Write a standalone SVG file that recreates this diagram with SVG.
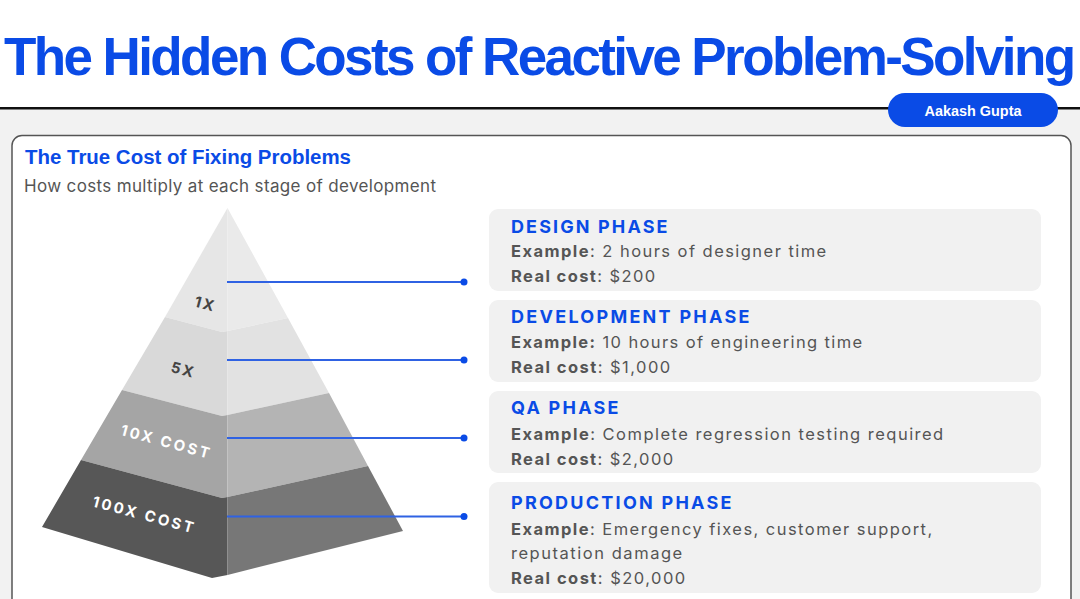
<svg xmlns="http://www.w3.org/2000/svg" width="1080" height="599" viewBox="0 0 1080 599">
<style>
.hel{font-family:"Liberation Sans",Arial,sans-serif;font-weight:700}
.int{font-family:Inter,"Noto Sans",sans-serif}
.ct{font-family:Inter,"Noto Sans",sans-serif;font-weight:700;font-size:18px;fill:#0a4be6;letter-spacing:1.5px}
.cb{font-family:Inter,"Noto Sans",sans-serif;font-size:16.5px;fill:#555;letter-spacing:0.8px}
.cb tspan.b{font-weight:700}
.card{fill:#f1f1f1}
.lbl{font-family:Inter,"Noto Sans",sans-serif;font-weight:700;text-anchor:middle}
.conn{stroke:#2f62e3;stroke-width:1.8;fill:none}
.dot{fill:#0a4be6}
</style>
<rect x="0" y="0" width="1080" height="599" fill="#f2f2f2"/>
<rect x="0" y="0" width="1080" height="108" fill="#ffffff"/>
<rect x="0" y="107" width="1080" height="2.5" fill="#111"/>
<text class="hel" x="4" y="75" font-size="53" fill="#0a4be6" letter-spacing="-2.6">The Hidden Costs of Reactive Problem-Solving</text>
<g id="author">
<rect x="888" y="93" width="170" height="34" rx="17" fill="#0a4be6"/>
<text class="hel" x="973" y="116" font-size="15" fill="#fff" text-anchor="middle" textLength="97" lengthAdjust="spacingAndGlyphs">Aakash Gupta</text>
</g>
<g id="panel">
<rect x="12" y="135.5" width="1059" height="480" rx="10" fill="#fff" stroke="#555" stroke-width="1.5"/>
<text class="hel" x="25" y="164" font-size="20" fill="#0a4be6" textLength="326" lengthAdjust="spacingAndGlyphs">The True Cost of Fixing Problems</text>
<text class="int" x="24" y="192" font-size="17" fill="#555" textLength="412">How costs multiply at each stage of development</text>
</g>
<g id="pyramid">
<g id="layer-1x">
<polygon points="227.5,208 165,317 222,332 227.5,331" fill="#e6e6e6"/>
<polygon points="227.5,208 288,318 227.5,331" fill="#eaeaea"/>
<text class="lbl" font-size="15" fill="#444" letter-spacing="2" transform="translate(204,309) rotate(15)">1X</text>
</g>
<g id="layer-5x">
<polygon points="165,317 122,390 222,416 227.5,415 227.5,331 222,332" fill="#d9d9d9"/>
<polygon points="227.5,331 288,318 329,393 227.5,415" fill="#e2e2e2"/>
<text class="lbl" font-size="15" fill="#444" letter-spacing="2" transform="translate(182,375) rotate(15)">5X</text>
</g>
<g id="layer-10x">
<polygon points="122,390 81,460 222,498 227.5,497 227.5,415 222,416" fill="#a5a5a5"/>
<polygon points="227.5,415 329,393 368,466 227.5,497" fill="#b4b4b4"/>
<text class="lbl" font-size="15" fill="#fff" letter-spacing="2.6" transform="translate(165,447) rotate(15)">10X COST</text>
</g>
<g id="layer-100x">
<polygon points="81,460 42,527 212,578 227.5,575 227.5,497 222,498" fill="#575757"/>
<polygon points="227.5,497 368,466 403,531 227.5,575" fill="#777777"/>
<text class="lbl" font-size="15" fill="#fff" letter-spacing="2.6" transform="translate(143,520) rotate(15)">100X COST</text>
</g>
</g>
<g id="connectors">
<line class="conn" x1="227" y1="282" x2="464" y2="282"/>
<circle class="dot" cx="464" cy="282" r="3.5"/>
<line class="conn" x1="227" y1="360" x2="464" y2="360"/>
<circle class="dot" cx="464" cy="360" r="3.5"/>
<line class="conn" x1="227" y1="438" x2="464" y2="438"/>
<circle class="dot" cx="464" cy="438" r="3.5"/>
<line class="conn" x1="227" y1="516.5" x2="464" y2="516.5"/>
<circle class="dot" cx="464" cy="516.5" r="3.5"/>
</g>
<g id="card-design">
<rect class="card" x="489" y="209" width="552" height="82" rx="9"/>
<text class="ct" x="511" y="233" textLength="158">DESIGN PHASE</text>
<text class="cb" x="511" y="257" textLength="316"><tspan class="b">Example</tspan>: 2 hours of designer time</text>
<text class="cb" x="511" y="282" textLength="145"><tspan class="b">Real cost</tspan>: $200</text>
</g>
<g id="card-development">
<rect class="card" x="489" y="300" width="552" height="82" rx="9"/>
<text class="ct" x="511" y="323" textLength="240">DEVELOPMENT PHASE</text>
<text class="cb" x="511" y="348" textLength="352"><tspan class="b">Example:</tspan> 10 hours of engineering time</text>
<text class="cb" x="511" y="373" textLength="160"><tspan class="b">Real cost</tspan>: $1,000</text>
</g>
<g id="card-qa">
<rect class="card" x="489" y="391" width="552" height="82" rx="9"/>
<text class="ct" x="511" y="414" textLength="109">QA PHASE</text>
<text class="cb" x="511" y="440" textLength="433"><tspan class="b">Example</tspan>: Complete regression testing required</text>
<text class="cb" x="511" y="465" textLength="163"><tspan class="b">Real cost</tspan>: $2,000</text>
</g>
<g id="card-production">
<rect class="card" x="489" y="482" width="552" height="111" rx="9"/>
<text class="ct" x="511" y="509" textLength="222">PRODUCTION PHASE</text>
<text class="cb" x="511" y="535" textLength="422"><tspan class="b">Example</tspan>: Emergency fixes, customer support,</text>
<text class="cb" x="511" y="559" textLength="172">reputation damage</text>
<text class="cb" x="511" y="584" textLength="175"><tspan class="b">Real cost</tspan>: $20,000</text>
</g>
</svg>
